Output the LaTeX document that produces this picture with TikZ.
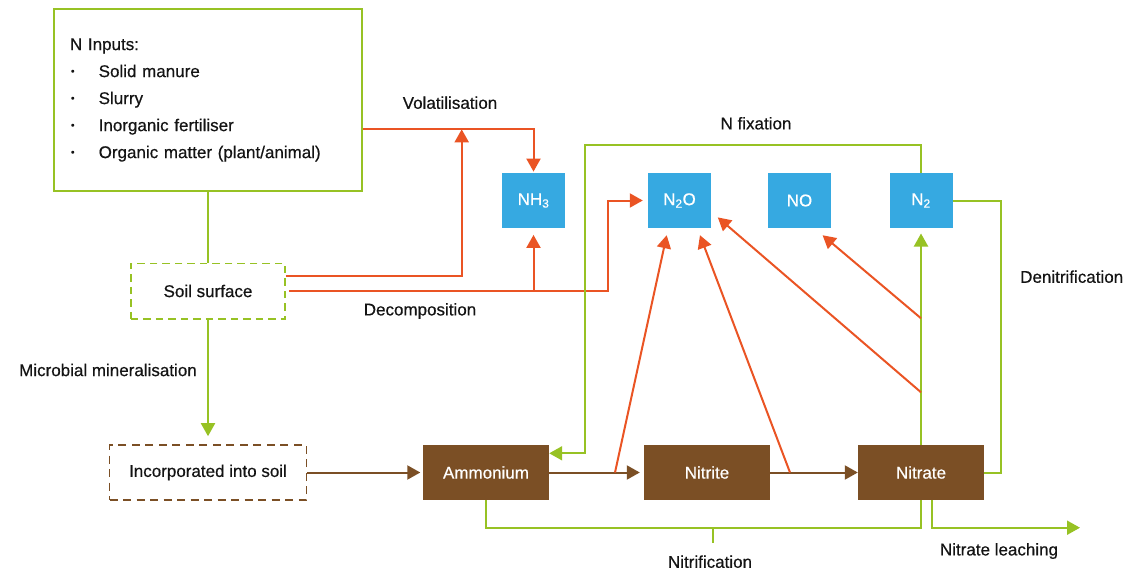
\documentclass[tikz,border=0pt]{standalone}
\usepackage{fontspec}
\setmainfont[FakeBold=0.5]{Liberation Sans}
\usepackage{graphicx}
\usepackage{tikz}
\usetikzlibrary{arrows.meta, positioning, calc}
\definecolor{leaf}{HTML}{97C224}
\definecolor{rust}{HTML}{EA5424}
\definecolor{sky}{HTML}{36A9E1}
\definecolor{earth}{HTML}{7B4F25}
\definecolor{ink}{HTML}{141414}
\newcommand{\dotitem}{\makebox[28.7pt][l]{\hspace{1pt}\raisebox{2.5pt}{\scalebox{0.6}{\textbullet}}}}
\tikzset{
    inputbox/.style={rectangle, draw=leaf, line width=1.5pt, minimum width=308pt, minimum height=181.7pt, text width=276pt, inner xsep=16pt, align=left, text=ink},
    soilbox/.style={rectangle, draw=leaf, line width=1.6pt, dash pattern=on 7.5pt off 5pt, minimum width=154.3pt, minimum height=55.4pt, text=ink},
    incbox/.style={rectangle, draw=earth, line width=1.6pt, dash pattern=on 8pt off 5.5pt, minimum width=196.7pt, minimum height=55pt, text=ink},
    formbox/.style={rectangle, fill=earth, text=white, minimum width=126pt, minimum height=55pt, inner sep=0pt},
    gasbox/.style={rectangle, fill=sky, text=white, minimum width=63pt, minimum height=54.4pt, inner sep=0pt},
    lbl/.style={text=ink, inner sep=0pt},
    grline/.style={draw=leaf, line width=2pt},
    grarrow/.style={grline, -{Triangle[length=13pt, width=14pt]}},
    orarrow/.style={draw=rust, line width=2pt, -{Triangle[length=13pt, width=14pt]}},
    brarrow/.style={draw=earth, line width=2pt, -{Triangle[length=13pt, width=14pt]}}
}

\begin{document}
\begin{tikzpicture}[x=1pt, y=-1pt, font=\fontsize{17pt}{27pt}\selectfont]
    \useasboundingbox (0,0) rectangle (1127,570);

    \node[inputbox] (inputs) at (208,100) {N Inputs:\\\dotitem Solid manure\\\dotitem Slurry\\\dotitem Inorganic fertiliser\\\dotitem Organic matter (plant/animal)};
    \node[soilbox] (soil) at (208,291) {Soil surface};
    \node[incbox] (incorp) at (208,472.5) {Incorporated into soil};
    \node[formbox] (ammonium) at (486,472.5) {Ammonium};
    \node[formbox] (nitrite) at (707,472.5) {Nitrite};
    \node[formbox] (nitrate) at (921,472.5) {Nitrate};
    \node[gasbox] (nh3) at (533.5,200.5) {NH\textsubscript{3}};
    \node[gasbox] (n2o) at (679.5,200.5) {N\textsubscript{2}O};
    \node[gasbox] (nox) at (799.5,200.5) {NO};
    \node[gasbox] (n2) at (921,200.5) {N\textsubscript{2}};

    \node[lbl] (volat) at (450,102.7) {Volatilisation};
    \node[lbl] (fix) at (756,123.3) {N fixation};
    \node[lbl] (decomp) at (420,311) {Decomposition};
    \node[lbl, anchor=east] (miner) at (197,370) {Microbial mineralisation};
    \node[lbl, anchor=west] (denitr) at (1020,276.7) {Denitrification};
    \node[lbl] (nitrif) at (710,561.7) {Nitrification};
    \node[lbl] (leaching) at (999,551) {Nitrate leaching};

    \coordinate (volup) at (461.7,129.3);
    \coordinate (split) at (607.7,291);
    \coordinate (fixcorner) at (585,145);
    \coordinate (denitcorner) at (1001,300);
    \coordinate (nitrcorner) at (712.7,527.7);
    \coordinate (leachend) at (1080,527.7);
    \coordinate (amto) at (615,472.5);
    \coordinate (itto) at (790,472.5);
    \coordinate (natlow) at (921,392.3);
    \coordinate (nathigh) at (921,318.3);

    \draw[grline] (inputs) -- (soil);
    \draw[grarrow, shorten >=8pt] (soil) -- (incorp);
    \draw[brarrow, shorten >=2.5pt] (incorp) -- (ammonium);
    \draw[brarrow, shorten >=4pt] (ammonium) -- (nitrite);
    \draw[brarrow] (nitrite) -- (nitrate);
    \draw[orarrow, shorten >=1.5pt] ([yshift=-29.3pt]inputs.east) -| (nh3.north);
    \draw[orarrow] ([yshift=15pt]soil.east) -| (volup);
    \draw[orarrow, shorten >=5pt] ([xshift=3pt]soil.east) -- (split) |- (n2o.west);
    \draw[orarrow, shorten >=7pt] (nh3.south |- split) -- (nh3.south);
    \draw[grarrow] (n2.north) |- (fixcorner) |- ([yshift=19.2pt]ammonium.east);
    \draw[grline] (n2.east) -| (denitcorner) |- (nitrate.east);
    \draw[grarrow, shorten >=5.6pt] (nitrate) -- (n2);
    \draw[grline] (ammonium.south) |- (nitrcorner) -| (nitrate.south);
    \draw[grline] (nitrcorner) -- ++(0,15.6);
    \draw[grarrow] ([xshift=10.9pt]nitrate.south) |- (leachend);
    \draw[orarrow, shorten >=7.5pt] (amto) -- ([xshift=-11.2pt]n2o.south);
    \draw[orarrow, shorten >=7.8pt] (itto) -- ([xshift=17.7pt]n2o.south);
    \draw[orarrow, shorten >=8.7pt] (natlow) -- ([yshift=-11.2pt]n2o.east);
    \draw[orarrow, shorten >=11.4pt] (nathigh) -- ([xshift=14.4pt]nox.south);
\end{tikzpicture}
\end{document}
